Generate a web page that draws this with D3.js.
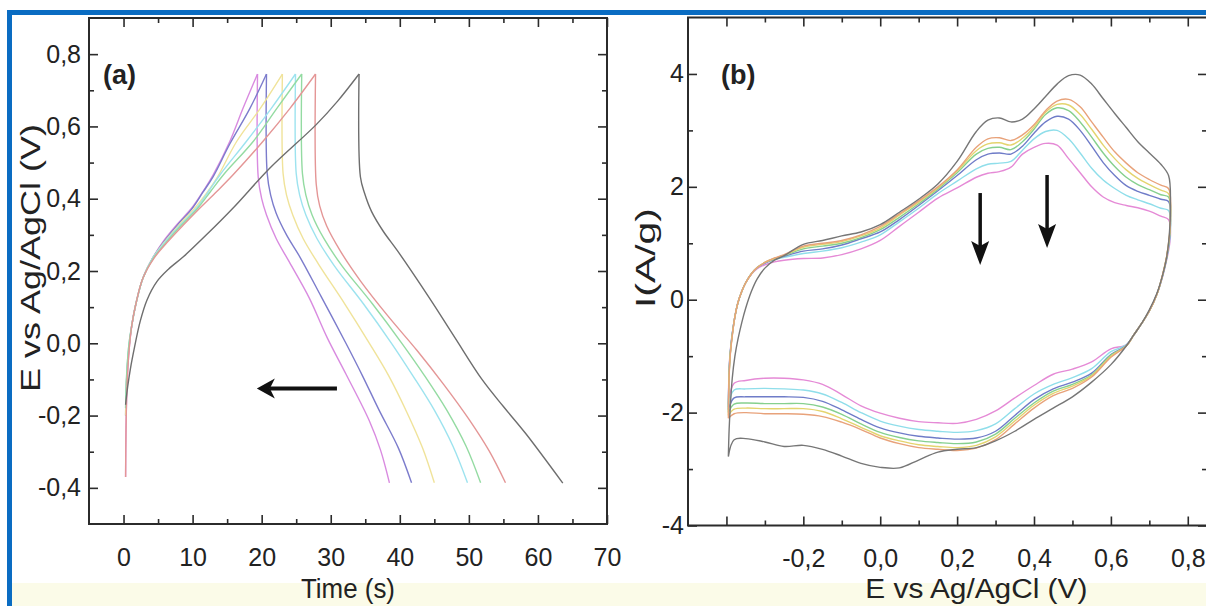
<!DOCTYPE html>
<html><head><meta charset="utf-8">
<script src="https://cdn.jsdelivr.net/npm/d3@7"></script>
<style>html,body{margin:0;padding:0;background:#fff;} svg{display:block;}</style>
</head><body><svg id="c" width="1206" height="606"></svg>
<script>
// ---------------- DATA ----------------
// Panel (a): galvanostatic charge/discharge curves
const gcdNames  = ["pink", "blue", "yellow", "cyan", "green", "red", "gray"];
const gcdColors = ["#d98be0", "#7c7ccc", "#f0e39a", "#9de3ef", "#94dba2", "#e49696", "#6e6e6e"];
const gcdTime = [
  [0.3,0.35,0.5,0.8,1.2,1.8,2.8,4.2,5.8,7.8,9.9,11.5,13.0,15.4,17.3,19.4, 19.5,20.0,20.7,22.1,24.0,26.9,29.5,32.2,35.6,37.2,38.5],
  [0.3,0.35,0.5,0.8,1.2,1.8,2.8,4.2,5.8,7.8,9.9,11.5,13.0,15.4,18.3,20.7, 20.8,21.3,22.1,23.6,25.5,28.6,32.2,34.6,37.0,39.8,41.7],
  [0.3,0.35,0.5,0.8,1.2,1.8,2.8,4.2,5.9,8.0,10.2,12.0,13.6,16.4,19.8,23.0, 23.1,23.6,24.5,26.0,28.2,32.0,35.6,38.4,41.0,43.3,45.0],
  [0.3,0.35,0.5,0.8,1.2,1.8,2.8,4.2,6.0,8.2,10.6,12.3,14.0,17.8,21.4,24.9, 25.0,25.5,26.4,28.0,30.5,34.7,38.8,41.9,45.0,47.7,49.8],
  [0.3,0.35,0.5,0.8,1.2,1.8,2.8,4.3,6.2,8.4,10.8,12.6,14.5,18.8,22.2,25.8, 25.9,26.4,27.3,29.0,31.6,36.0,40.3,43.6,46.8,49.6,51.7],
  [0.3,0.35,0.5,0.8,1.2,1.8,2.8,4.4,6.5,8.8,11.1,13.5,15.9,20.2,24.1,27.8, 27.9,28.4,29.4,31.4,34.4,38.3,42.5,46.4,50.0,53.0,55.3],
  [0.3,0.35,0.6,1.0,1.6,2.4,3.4,4.8,6.5,8.7,12.0,15.9,21.2,27.9,31.0,34.1, 34.3,34.9,35.9,37.6,39.7,44.3,48.0,51.9,55.0,58.2,63.6]
];
const gcdPotential = [
  [-0.37,-0.25,-0.12,-0.02,0.05,0.11,0.18,0.235,0.283,0.33,0.375,0.42,0.467,0.559,0.65,0.745, 0.46,0.40,0.355,0.29,0.225,0.125,0.015,-0.085,-0.215,-0.295,-0.386],
  [-0.2,-0.15,-0.08,-0.01,0.05,0.11,0.18,0.235,0.28,0.327,0.372,0.418,0.462,0.552,0.65,0.745, 0.47,0.41,0.36,0.30,0.24,0.13,0.0,-0.09,-0.185,-0.29,-0.386],
  [-0.2,-0.15,-0.08,-0.01,0.05,0.11,0.18,0.235,0.28,0.327,0.372,0.415,0.46,0.559,0.65,0.745, 0.47,0.41,0.355,0.29,0.22,0.11,0.0,-0.09,-0.19,-0.29,-0.386],
  [-0.18,-0.14,-0.07,0.0,0.05,0.11,0.18,0.235,0.28,0.327,0.375,0.42,0.467,0.559,0.65,0.745, 0.47,0.41,0.355,0.29,0.215,0.11,0.0,-0.09,-0.185,-0.285,-0.386],
  [-0.18,-0.14,-0.07,0.0,0.05,0.11,0.18,0.235,0.28,0.327,0.375,0.42,0.467,0.559,0.65,0.745, 0.47,0.41,0.355,0.29,0.215,0.11,0.0,-0.09,-0.185,-0.285,-0.386],
  [-0.37,-0.25,-0.12,-0.02,0.05,0.11,0.18,0.235,0.283,0.33,0.375,0.42,0.467,0.559,0.65,0.745, 0.44,0.38,0.325,0.255,0.17,0.075,-0.02,-0.115,-0.21,-0.30,-0.386],
  [-0.17,-0.16,-0.12,-0.07,-0.01,0.06,0.12,0.17,0.205,0.24,0.3,0.375,0.485,0.605,0.67,0.745, 0.46,0.415,0.365,0.31,0.255,0.125,0.015,-0.1,-0.175,-0.249,-0.387]
];
const gcdPeakIndex = 15;
const timeTicks = [0, 10, 20, 30, 40, 50, 60, 70];
const potentialTicks = [-0.4, -0.2, 0.0, 0.2, 0.4, 0.6, 0.8];

// Panel (b): cyclic voltammograms (shared potential path, one current array per curve)
const cvPotential = [
  -0.395,-0.393,-0.39,-0.385,-0.378,-0.37,-0.36,-0.35,-0.335,-0.32,-0.3,-0.275,-0.25,
  -0.2,-0.15,-0.1,-0.05,0.0,0.05,0.1,0.15,0.2,0.25,0.28,0.31,0.34,0.37,0.4,0.43,0.46,0.49,0.52,0.55,0.58,0.61,0.64,0.67,0.7,0.73,0.75,
  0.755,0.752,0.745,0.735,0.72,0.7,0.68,0.66,0.64,
  0.6,0.55,0.5,0.45,0.4,0.35,0.3,0.25,0.2,0.15,0.1,0.05,0.0,-0.05,-0.1,-0.15,-0.2,-0.25,-0.3,-0.35,-0.38,-0.395
];
const cvNames  = ["gray", "orange", "yellow", "green", "blue", "cyan", "pink"];
const cvColors = ["#767676", "#e8a27a", "#e4d46e", "#86d08e", "#6f7cc8", "#8fdeea", "#e58ad6"];
const cvCurrent = [
  [-2.78,-2.3,-1.9,-1.4,-1.0,-0.7,-0.4,-0.15,0.15,0.37,0.56,0.7,0.78,
   0.98,1.05,1.13,1.2,1.33,1.55,1.78,2.05,2.45,2.98,3.18,3.22,3.15,3.2,3.38,3.6,3.82,3.97,3.98,3.82,3.56,3.3,3.05,2.8,2.6,2.4,2.2,
   1.7,1.15,0.75,0.45,0.12,-0.18,-0.42,-0.62,-0.82,
   -1.15,-1.46,-1.72,-1.92,-2.12,-2.33,-2.5,-2.62,-2.65,-2.7,-2.84,-2.98,-2.97,-2.9,-2.77,-2.65,-2.58,-2.6,-2.52,-2.46,-2.48,-2.78],
  [-2.1,-1.35,-0.98,-0.65,-0.3,-0.05,0.15,0.3,0.46,0.57,0.66,0.74,0.8,
   0.95,1.0,1.05,1.15,1.3,1.52,1.75,2.0,2.3,2.7,2.85,2.87,2.82,2.92,3.1,3.35,3.52,3.55,3.42,3.15,2.88,2.62,2.42,2.25,2.13,2.03,1.97,
   1.5,1.12,0.77,0.46,0.1,-0.2,-0.42,-0.62,-0.82,
   -1.02,-1.37,-1.57,-1.7,-1.92,-2.2,-2.48,-2.63,-2.67,-2.65,-2.62,-2.55,-2.45,-2.3,-2.17,-2.07,-2.03,-2.02,-2.02,-2.0,-2.02,-2.1],
  [-2.05,-1.32,-0.96,-0.64,-0.3,-0.05,0.15,0.3,0.46,0.57,0.66,0.73,0.79,
   0.93,0.98,1.03,1.13,1.27,1.5,1.73,1.98,2.28,2.64,2.76,2.78,2.74,2.86,3.06,3.32,3.46,3.45,3.28,3.02,2.74,2.5,2.3,2.15,2.04,1.94,1.88,
   1.45,1.1,0.76,0.45,0.1,-0.2,-0.42,-0.62,-0.82,
   -1.0,-1.35,-1.53,-1.66,-1.87,-2.15,-2.43,-2.58,-2.62,-2.6,-2.57,-2.5,-2.41,-2.26,-2.11,-1.98,-1.93,-1.93,-1.93,-1.92,-1.94,-2.05],
  [-2.0,-1.3,-0.95,-0.63,-0.3,-0.05,0.15,0.3,0.46,0.57,0.66,0.73,0.78,
   0.9,0.95,1.0,1.1,1.24,1.46,1.7,1.96,2.25,2.58,2.68,2.7,2.66,2.8,3.02,3.28,3.4,3.35,3.15,2.88,2.6,2.36,2.17,2.04,1.95,1.86,1.82,
   1.4,1.08,0.75,0.45,0.1,-0.2,-0.42,-0.62,-0.82,
   -0.98,-1.33,-1.5,-1.62,-1.83,-2.1,-2.38,-2.52,-2.55,-2.53,-2.5,-2.44,-2.35,-2.2,-2.03,-1.9,-1.84,-1.84,-1.84,-1.83,-1.85,-2.0],
  [-1.95,-1.28,-0.94,-0.62,-0.3,-0.05,0.15,0.3,0.46,0.57,0.65,0.72,0.77,
   0.86,0.9,0.97,1.08,1.2,1.42,1.67,1.93,2.2,2.48,2.58,2.6,2.58,2.72,2.95,3.15,3.25,3.2,3.0,2.72,2.43,2.2,2.02,1.92,1.85,1.78,1.74,
   1.35,1.05,0.74,0.44,0.1,-0.2,-0.42,-0.62,-0.81,
   -0.97,-1.3,-1.46,-1.58,-1.77,-2.05,-2.33,-2.45,-2.47,-2.45,-2.42,-2.36,-2.27,-2.12,-1.95,-1.8,-1.73,-1.72,-1.72,-1.72,-1.74,-1.95],
  [-1.9,-1.25,-0.92,-0.6,-0.3,-0.05,0.15,0.3,0.46,0.57,0.65,0.71,0.75,
   0.82,0.86,0.92,1.02,1.15,1.38,1.62,1.88,2.1,2.32,2.4,2.42,2.45,2.65,2.85,2.98,3.0,2.85,2.6,2.33,2.12,1.97,1.85,1.77,1.7,1.62,1.58,
   1.25,1.0,0.72,0.43,0.1,-0.2,-0.42,-0.62,-0.8,
   -0.92,-1.22,-1.38,-1.5,-1.67,-1.93,-2.2,-2.32,-2.35,-2.33,-2.3,-2.24,-2.15,-2.0,-1.82,-1.67,-1.6,-1.58,-1.57,-1.58,-1.6,-1.9],
  [-1.85,-1.2,-0.9,-0.6,-0.3,-0.05,0.15,0.3,0.45,0.55,0.62,0.67,0.7,
   0.73,0.74,0.8,0.9,1.05,1.3,1.55,1.8,1.98,2.17,2.24,2.27,2.35,2.58,2.7,2.77,2.74,2.5,2.25,2.0,1.82,1.72,1.67,1.63,1.57,1.48,1.42,
   1.15,0.95,0.7,0.42,0.1,-0.2,-0.42,-0.62,-0.8,
   -0.87,-1.1,-1.23,-1.32,-1.52,-1.74,-1.97,-2.12,-2.19,-2.18,-2.16,-2.1,-2.01,-1.88,-1.68,-1.5,-1.42,-1.39,-1.39,-1.43,-1.48,-1.85]
];
const cvPotentialTicks = [-0.4, -0.2, 0.0, 0.2, 0.4, 0.6, 0.8];
const cvPotentialLabelled = [-0.2, 0.0, 0.2, 0.4, 0.6, 0.8];
const currentTicks = [-4, -2, 0, 2, 4];

// Annotation arrows (data coordinates)
const arrowA = {t1: 30.9, t2: 19.3, e: -0.125};
const arrowsB = [{e: 0.26, i1: 1.89, i2: 0.615}, {e: 0.434, i1: 2.21, i2: 0.915}];

// ---------------- DRAW ----------------
const svg = d3.select("#c");
const FONT = "'Liberation Sans', Arial, Helvetica, sans-serif";
const INK = "#2b2b2b";
const comma = d => d3.format(".1f")(d).replace("\u2212", "-").replace(".", ",");

// background + frame decoration
svg.append("rect").attr("x", 0).attr("y", 0).attr("width", 1206).attr("height", 606).attr("fill", "#ffffff");
svg.append("rect").attr("x", 12).attr("y", 583).attr("width", 1194).attr("height", 23).attr("fill", "#fbfbe8");
svg.append("rect").attr("x", 7).attr("y", 10).attr("width", 1199).attr("height", 5).attr("fill", "#0a6cc2");
svg.append("rect").attr("x", 7).attr("y", 10).attr("width", 5).attr("height", 596).attr("fill", "#0a6cc2");

function frameAxes(g, x, y, o) {
  const [x0, x1] = x.range(), [y0, y1] = y.range();
  const styleAxis = sel => {
    sel.select(".domain").remove();
    sel.selectAll(".tick line").attr("stroke", INK).attr("stroke-width", 1.6);
    sel.selectAll("text").attr("font-family", FONT).attr("font-size", 25).attr("fill", "#222");
  };
  g.append("g").attr("transform", `translate(0,${y0})`)
    .call(d3.axisBottom(x).tickValues(o.xMajor).tickSize(-9).tickPadding(24).tickFormat(o.xFmt)).call(styleAxis);
  g.append("g").attr("transform", `translate(0,${y0})`)
    .call(d3.axisBottom(x).tickValues(o.xMinor).tickSize(-5).tickFormat("")).call(styleAxis);
  g.append("g").attr("transform", `translate(0,${y1})`)
    .call(d3.axisTop(x).tickValues(o.xMajor).tickSize(-9).tickFormat("")).call(styleAxis);
  g.append("g").attr("transform", `translate(0,${y1})`)
    .call(d3.axisTop(x).tickValues(o.xMinor).tickSize(-5).tickFormat("")).call(styleAxis);
  g.append("g").attr("transform", `translate(${x0},0)`)
    .call(d3.axisLeft(y).tickValues(o.yMajor).tickSize(-9).tickPadding(o.yPad).tickFormat(o.yFmt)).call(styleAxis);
  g.append("g").attr("transform", `translate(${x0},0)`)
    .call(d3.axisLeft(y).tickValues(o.yMinor).tickSize(-5).tickFormat("")).call(styleAxis);
  g.append("g").attr("transform", `translate(${x1},0)`)
    .call(d3.axisRight(y).tickValues(o.yMajor).tickSize(-9).tickFormat("")).call(styleAxis);
  g.append("g").attr("transform", `translate(${x1},0)`)
    .call(d3.axisRight(y).tickValues(o.yMinor).tickSize(-5).tickFormat("")).call(styleAxis);
  g.append("rect").attr("x", x0).attr("y", y1).attr("width", x1 - x0).attr("height", y0 - y1)
    .attr("fill", "none").attr("stroke", INK).attr("stroke-width", 2);
}

function arrow(g, xt, yt, xs, ys, len, half, notch, sw) {
  const dx = xt - xs, dy = yt - ys, L = Math.hypot(dx, dy), ux = dx / L, uy = dy / L, px = -uy, py = ux;
  const bx = xt - ux * len, by = yt - uy * len;
  const nx = xt - ux * (len - notch), ny = yt - uy * (len - notch);
  g.append("line").attr("x1", xs).attr("y1", ys).attr("x2", nx).attr("y2", ny)
    .attr("stroke", "#111").attr("stroke-width", sw);
  g.append("path").attr("d", `M${xt},${yt}L${bx + px * half},${by + py * half}L${nx},${ny}L${bx - px * half},${by - py * half}Z`)
    .attr("fill", "#111");
}

// -------- Panel (a)
const xa = d3.scaleLinear().domain([-5, 70]).range([89, 607]);
const ya = d3.scaleLinear().domain([-0.5, 0.9]).range([524, 18]);
const ga = svg.append("g");
const lineA = d3.line().x(d => xa(d[0])).y(d => ya(d[1])).curve(d3.curveCatmullRom.alpha(0.5));
gcdTime.forEach((ts, k) => {
  const pts = ts.map((t, i) => [t, gcdPotential[k][i]]);
  const seg1 = pts.slice(0, gcdPeakIndex + 1), seg2 = pts.slice(gcdPeakIndex);
  [seg1, seg2].forEach(s => ga.append("path").attr("d", lineA(s)).attr("fill", "none")
    .attr("stroke", gcdColors[k]).attr("stroke-width", 1.4));
});
frameAxes(ga, xa, ya, {
  xMajor: timeTicks, xMinor: d3.range(5, 70, 10), xFmt: d3.format("d"),
  yMajor: potentialTicks, yMinor: [-0.3, -0.1, 0.1, 0.3, 0.5, 0.7], yFmt: comma, yPad: 8
});
arrow(ga, xa(arrowA.t2), ya(arrowA.e), xa(arrowA.t1), ya(arrowA.e), 18, 10, 5, 4);
ga.append("text").attr("x", 103).attr("y", 84).attr("font-family", FONT).attr("font-weight", "bold")
  .attr("font-size", 27).attr("fill", "#222").text("(a)");
ga.append("text").attr("x", xa(32.5)).attr("y", 598).attr("text-anchor", "middle").attr("font-family", FONT)
  .attr("font-size", 27).attr("fill", "#222").attr("textLength", 94).attr("lengthAdjust", "spacingAndGlyphs").text("Time (s)");
ga.append("text").attr("transform", `translate(40,258) rotate(-90)`).attr("text-anchor", "middle").attr("font-family", FONT)
  .attr("font-size", 27).attr("fill", "#222").attr("textLength", 268).attr("lengthAdjust", "spacingAndGlyphs").text("E vs Ag/AgCl (V)");

// -------- Panel (b)
const xb = d3.scaleLinear().domain([-0.5, 0.85]).range([688, 1207]);
const yb = d3.scaleLinear().domain([-4, 5]).range([525.5, 17.5]);
const gb = svg.append("g");
const lineB = d3.line().x(d => xb(d[0])).y(d => yb(d[1])).curve(d3.curveCatmullRom.alpha(0.5));
cvCurrent.slice().reverse().forEach((cur, rk) => {
  const k = cvCurrent.length - 1 - rk;
  const pts = cvPotential.map((e, i) => [e, cur[i]]);
  gb.append("path").attr("d", lineB(pts)).attr("fill", "none").attr("stroke", cvColors[k]).attr("stroke-width", 1.4);
});
frameAxes(gb, xb, yb, {
  xMajor: cvPotentialTicks, xMinor: [-0.3, -0.1, 0.1, 0.3, 0.5, 0.7],
  xFmt: d => cvPotentialLabelled.some(v => Math.abs(v - d) < 1e-9) ? comma(d) : "",
  yMajor: currentTicks, yMinor: [-3, -1, 1, 3], yFmt: d => String(d), yPad: 4
});
arrowsB.forEach(a => arrow(gb, xb(a.e), yb(a.i2), xb(a.e), yb(a.i1), 24, 9, 5, 3.5));
gb.append("text").attr("x", 721).attr("y", 84).attr("font-family", FONT).attr("font-weight", "bold")
  .attr("font-size", 27).attr("fill", "#222").text("(b)");
gb.append("text").attr("x", xb(0.25)).attr("y", 598).attr("text-anchor", "middle").attr("font-family", FONT)
  .attr("font-size", 27).attr("fill", "#222").attr("textLength", 222).attr("lengthAdjust", "spacingAndGlyphs").text("E vs Ag/AgCl (V)");
gb.append("text").attr("transform", `translate(655,258) rotate(-90)`).attr("text-anchor", "middle").attr("font-family", FONT)
  .attr("font-size", 28).attr("fill", "#222").attr("textLength", 100).attr("lengthAdjust", "spacingAndGlyphs").text("I(A/g)");
</script></body></html>
